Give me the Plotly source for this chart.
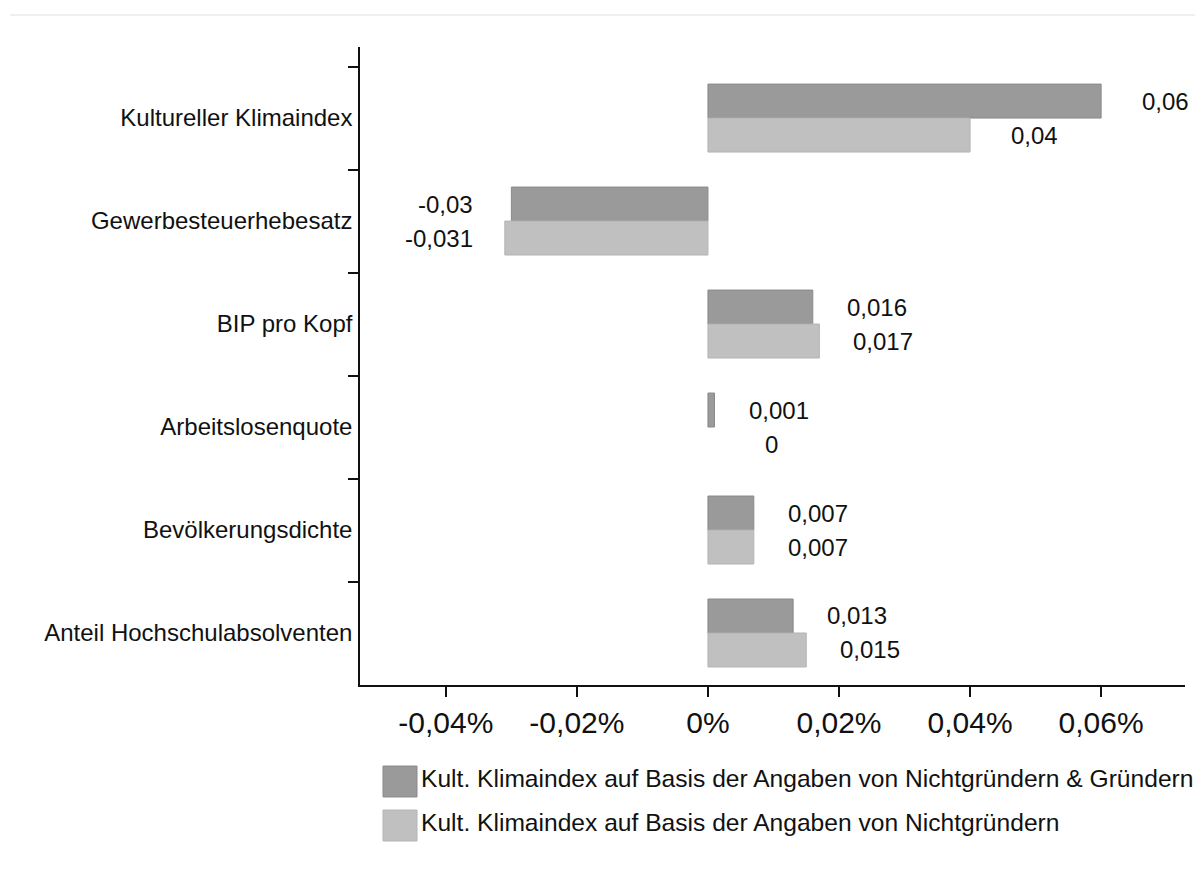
import plotly.graph_objects as go

# data
categories = ["Kultureller Klimaindex", "Gewerbesteuerhebesatz", "BIP pro Kopf",
              "Arbeitslosenquote", "Bevölkerungsdichte", "Anteil Hochschulabsolventen"]
gruender = [0.06, -0.03, 0.016, 0.001, 0.007, 0.013]
nichtgruender = [0.04, -0.031, 0.017, 0.0, 0.007, 0.015]
series_names = ["Kult. Klimaindex auf Basis der Angaben von Nichtgründern & Gründern",
                "Kult. Klimaindex auf Basis der Angaben von Nichtgründern"]
tick_vals = [-0.04, -0.02, 0, 0.02, 0.04, 0.06]
tick_text = ["-0,04%", "-0,02%", "0%", "0,02%", "0,04%", "0,06%"]

dark = "#9a9a9a"
light = "#c0c0c0"
dark_line = "#8a8a8a"
light_line = "#b4b4b4"
font = "Liberation Sans, Arial, sans-serif"

fig = go.Figure()
for vals, name, col, lc in [(gruender, series_names[0], dark, dark_line),
                            (nichtgruender, series_names[1], light, light_line)]:
    # no outline on zero-length bars
    widths = [1 if v != 0 else 0 for v in vals]
    fig.add_trace(go.Bar(y=categories, x=vals, orientation="h", name=name,
                         marker=dict(color=col, line=dict(color=lc, width=widths))))

def fmt(v):
    return f"{v:g}".replace(".", ",")

# value labels beside the bars
for vals, ys in [(gruender, 17), (nichtgruender, -17)]:
    for cat, v in zip(categories, vals):
        fig.add_annotation(x=v, y=cat, text=fmt(v), showarrow=False,
                           xanchor="center", xshift=64 if v >= 0 else -66, yshift=ys,
                           font=dict(size=24, color="#111111", family=font))

# hand-made legend with large swatches
for i, (name, col, lc) in enumerate([(series_names[0], dark, dark_line),
                                     (series_names[1], light, light_line)]):
    y1 = -0.127 - i * 0.069
    y0 = y1 - 0.0485
    fig.add_shape(type="rect", xref="paper", yref="paper", x0=0.0279, x1=0.0691,
                  y0=y0, y1=y1, fillcolor=col, line=dict(color=lc, width=1))
    fig.add_annotation(xref="paper", yref="paper", x=0.071, y=(y0 + y1) / 2, text=name,
                       showarrow=False, xanchor="left", yanchor="middle", yshift=3,
                       font=dict(size=24.6, color="#111111", family=font))

# faint rule at the top of the page
fig.add_shape(type="line", xref="paper", yref="paper", x0=-0.424, x1=1.03, y0=1.05, y1=1.05,
              line=dict(color="#e8ebea", width=1.5))

fig.update_layout(
    width=1195, height=864,
    margin=dict(l=352, r=18, t=39, b=187),
    paper_bgcolor="white", plot_bgcolor="white",
    barmode="group", bargap=0.34, bargroupgap=0,
    showlegend=False,
    font=dict(family=font, color="#111111"),
)
fig.update_xaxes(range=[-0.0531, 0.0728], tickvals=tick_vals, ticktext=tick_text,
                 showgrid=False, zeroline=False, showline=True, linecolor="#111111", linewidth=1.5,
                 ticks="outside", ticklen=10, tickwidth=1.5, tickcolor="#111111",
                 tickfont=dict(size=30, family=font, color="#111111"))
fig.update_yaxes(type="category", categoryorder="array", categoryarray=categories,
                 range=[5.505, -0.69], tickson="boundaries",
                 showgrid=False, zeroline=False, showline=True, linecolor="#111111", linewidth=1.5,
                 ticks="outside", ticklen=10, tickwidth=1.5, tickcolor="#111111",
                 ticklabelstandoff=1,
                 tickfont=dict(size=24, family=font, color="#111111"))

fig.write_html("out.html")
